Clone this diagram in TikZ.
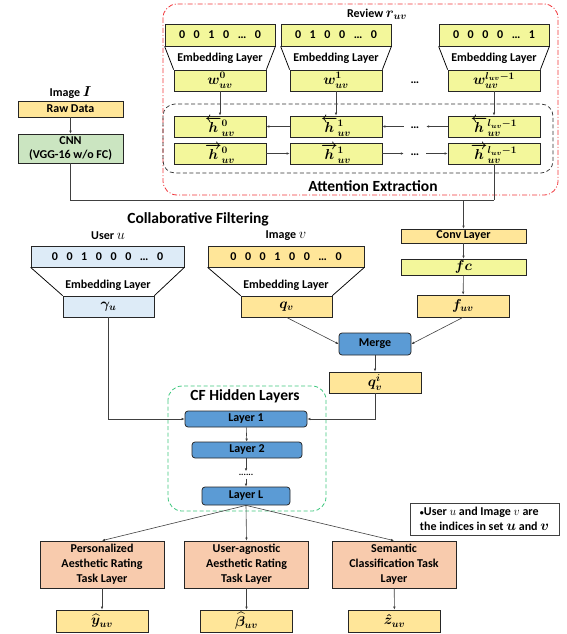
\documentclass[tikz,border=0pt]{standalone}
\usepackage{fontspec}
\usepackage{amsmath,bm}
\setmainfont{Carlito}
\usetikzlibrary{arrows.meta,positioning,calc}
\definecolor{cRev}{HTML}{F3F79B}
\definecolor{cGold}{HTML}{FFE699}
\definecolor{cSky}{HTML}{DDEBF7}
\definecolor{cLeaf}{HTML}{CBE5C1}
\definecolor{cLay}{HTML}{5B9BD5}
\definecolor{cTask}{HTML}{F8CBAD}
\definecolor{cRed}{HTML}{F0353A}
\definecolor{cGrn}{HTML}{3DC77E}
\definecolor{ink}{HTML}{404040}
\tikzset{
  box/.style={draw=black!85,line width=0.75pt,inner sep=0pt,align=center,font=\bfseries\boldmath\fontsize{12}{15}\selectfont},
  revbox/.style={box,fill=cRev,minimum width=110pt,minimum height=22pt},
  hbox/.style={box,fill=cRev,minimum width=92pt,minimum height=21pt},
  goldbox/.style={box,fill=cGold,minimum width=92pt,minimum height=21pt},
  laybox/.style={box,fill=cLay,rounded corners=3pt,minimum height=16pt},
  taskbox/.style={box,fill=cTask,minimum width=124pt,minimum height=47pt},
  lbl/.style={inner sep=1pt,font=\bfseries\fontsize{12}{14}\selectfont},
  head/.style={inner sep=1pt,font=\bfseries\fontsize{15.5}{18}\selectfont},
  dotnode/.style={inner sep=0pt,minimum width=22pt,font=\bfseries\fontsize{12}{14}\selectfont},
  link/.style={draw=ink,line width=0.6pt},
  arr/.style={link,-{Latex[length=3pt,width=2.6pt]}}
}
\newcommand{\bitsep}{\hspace{8.6pt}}
\newcommand{\mth}[1]{{\fontsize{14}{15}\selectfont$#1$}}

\begin{document}
\begin{tikzpicture}[x=1pt,y=-1pt]
  \useasboundingbox (0,0) rectangle (566,634);
  % review part
  \draw[cRed,line width=0.8pt,dash pattern=on 5pt off 2pt on 1pt off 2pt,rounded corners=14pt] (163,4) rectangle (558,195);
  \draw[black!80,line width=0.7pt,dash pattern=on 4pt off 2.5pt,rounded corners=12pt] (163,104) rectangle (553,173);
  \node[lbl] (review) at (377,14) {Review {\boldmath\mth{r_{uv}}}};
  \node[revbox] (bit0) at (220,35) {0\bitsep0\bitsep1\bitsep0\bitsep\ldots\bitsep0};
  \node[revbox] (bit1) at (336,35) {0\bitsep1\bitsep0\bitsep0\bitsep\ldots\bitsep0};
  \node[revbox] (bit2) at (494,35) {0\bitsep0\bitsep0\bitsep0\bitsep\ldots\bitsep1};
  \node[hbox] (w0) at (220,80.5) {\mth{w_{uv}^{0}}};
  \node[hbox] (w1) at (336,80.5) {\mth{w_{uv}^{1}}};
  \node[hbox] (w2) at (494,80.5) {\mth{w_{uv}^{l_{uv}-1}}};
  \node[lbl] (wdots) at (415,83) {\ldots};
  \foreach \i in {0,1,2} {
    \draw[line width=0.75pt] (bit\i.south west) -- (w\i.north west) (bit\i.south east) -- (w\i.north east);
    \node[lbl] at ($(bit\i.south)!0.5!(w\i.north)$) {Embedding Layer};
  }
  \node[hbox] (hb0) at (220,126.5) {\mth{\overleftarrow{h}{}_{uv}^{0}}};
  \node[hbox] (hb1) at (336,126.5) {\mth{\overleftarrow{h}{}_{uv}^{1}}};
  \node[hbox] (hb2) at (494,126.5) {\mth{\overleftarrow{h}{}_{uv}^{l_{uv}-1}}};
  \node[hbox] (hf0) at (220,153.5) {\mth{\overrightarrow{h}{}_{uv}^{0}}};
  \node[hbox] (hf1) at (336,153.5) {\mth{\overrightarrow{h}{}_{uv}^{1}}};
  \node[hbox] (hf2) at (494,153.5) {\mth{\overrightarrow{h}{}_{uv}^{l_{uv}-1}}};
  \node[dotnode] (hbdots) at (415,128) {\ldots};
  \node[dotnode] (hfdots) at (415,155) {\ldots};
  \foreach \i in {0,1,2} \draw[arr] (w\i) -- (hb\i);
  \draw[arr] (hb1) -- (hb0);
  \draw[arr] (hb2.west) -- (hbdots.east |- hb2.west);
  \draw[arr] (hbdots.west |- hb1.east) -- (hb1.east);
  \draw[arr] (hf0) -- (hf1);
  \draw[arr] (hf1.east) -- (hfdots.west |- hf1.east);
  \draw[arr] (hfdots.east |- hf2.west) -- (hf2.west);
  \node[head] (attn) at (373,186) {Attention Extraction};
  % image part
  \node[lbl] (imgI) at (70.5,93) {Image {\boldmath\mth{I}}};
  \node[box,fill=cGold,minimum width=105pt,minimum height=16pt] (raw) at (70.5,109) {Raw Data};
  \node[box,fill=cLeaf,minimum width=105pt,minimum height=29pt,font=\bfseries\fontsize{12}{13.5}\selectfont] (cnn) at (70.5,148.5) {CNN\\(VGG-16 w/o FC)};
  \draw[arr] (raw) -- (cnn);
  \coordinate (join) at (494,200);
  \draw[link] (cnn.south) |- (join) (hf2.south) -- (join);
  \node[box,fill=cGold,minimum width=125pt,minimum height=14pt] (conv) at (463.5,236) {Conv Layer};
  \node[box,fill=cRev,minimum width=125pt,minimum height=16pt] (fc) at (463.5,267) {\mth{fc}};
  \node[goldbox,minimum height=22pt] (fuv) at (463,306) {\mth{f_{uv}}};
  \draw[arr] (conv.north |- join) -- (conv);
  \draw[arr] (conv) -- (fc);
  \draw[arr] (fc) -- (fuv);
  % collaborative filtering
  \node[head] (cf) at (198,219) {Collaborative Filtering};
  \node[lbl] (userlbl) at (108,236) {User \mth{u}};
  \node[lbl] (imglbl) at (286,236) {Image \mth{v}};
  \node[box,fill=cSky,minimum width=153pt,minimum height=21pt] (user) at (107.5,256.5) {0\bitsep0\bitsep1\bitsep0\bitsep0\bitsep0\bitsep\ldots\bitsep0};
  \node[box,fill=cGold,minimum width=156pt,minimum height=21pt] (img) at (286,256.5) {0\bitsep0\bitsep0\bitsep1\bitsep0\bitsep0\bitsep\ldots\bitsep0};
  \node[box,fill=cSky,minimum width=91pt,minimum height=21pt] (gam) at (108.5,306.5) {\mth{\gamma_{u}}};
  \node[goldbox,minimum width=91pt] (qv) at (286.5,306.5) {\mth{q_{v}}};
  \draw[line width=0.75pt] (user.south west) -- (gam.north west) (user.south east) -- (gam.north east);
  \draw[line width=0.75pt] (img.south west) -- (qv.north west) (img.south east) -- (qv.north east);
  \node[lbl] at (108,285) {Embedding Layer};
  \node[lbl] at (286,285) {Embedding Layer};
  \node[laybox,minimum width=72pt,minimum height=22pt] (merge) at (375,344) {Merge};
  \node[goldbox] (qvi) at (375,382.5) {\mth{q_{v}^{i}}};
  \draw[arr] (qv.south) -- (merge.west);
  \draw[arr] (fuv.south) -- (merge.east);
  \draw[arr] (merge) -- (qvi);
  % hidden layers
  \draw[cGrn,line width=0.8pt,dash pattern=on 4pt off 2.5pt,rounded corners=14pt] (168,386) rectangle (326,511);
  \node[head] (hid) at (245,396) {CF Hidden Layers};
  \node[laybox,minimum width=122pt] (lay1) at (246,419) {Layer 1};
  \node[laybox,minimum width=110pt] (lay2) at (247,450) {Layer 2};
  \node[inner sep=0pt,minimum height=7pt,font=\bfseries\fontsize{9}{9}\selectfont] (laydots) at (246,475) {......};
  \node[laybox,minimum width=88pt,minimum height=18pt] (layL) at (246,496) {Layer L};
  \draw[arr] (gam.south) |- (lay1.west);
  \draw[arr] (qvi.south) |- (lay1.east);
  \draw[arr] (lay1) -- (lay2);
  \draw[arr] (lay2.south -| laydots) -- (laydots);
  \draw[arr] (laydots) -- (layL.north -| laydots);
  % task layers
  \node[taskbox] (task1) at (102,564.5) {Personalized\\Aesthetic Rating\\Task Layer};
  \node[taskbox] (task2) at (246.5,564.5) {User-agnostic\\Aesthetic Rating\\Task Layer};
  \node[taskbox] (task3) at (394,564.5) {Semantic\\Classification Task\\Layer};
  \node[goldbox,minimum height=22pt] (out1) at (102,621) {\mth{\widehat{y}_{uv}}};
  \node[goldbox,minimum height=22pt] (out2) at (246.5,621) {\mth{\widehat{\beta}_{uv}}};
  \node[goldbox,minimum height=22pt] (out3) at (394.5,621) {\mth{\hat{z}_{uv}}};
  \foreach \i in {1,2,3} {
    \draw[arr] (layL.south) -- (task\i.north);
    \draw[arr] (task\i) -- (out\i);
  }
  \node[box,draw=black!75,minimum width=149pt,minimum height=32pt,align=left] (note) at (484.5,519) {{\fontsize{8}{8}\selectfont\textbullet}User {\unboldmath$u$} and Image {\unboldmath$v$} are\\the indices in set \mth{u} and \mth{v}};
\end{tikzpicture}
\end{document}
